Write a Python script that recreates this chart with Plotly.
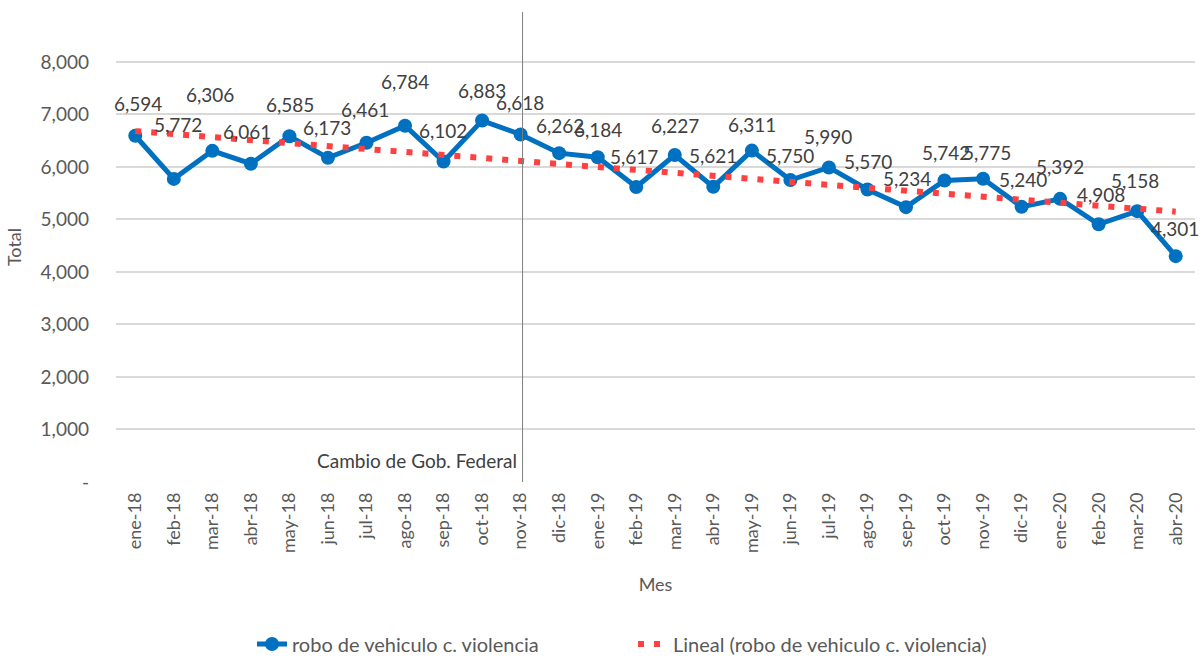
import numpy as np
import plotly.graph_objects as go

# Monthly counts: robo de vehiculo con violencia
meses = ["ene-18", "feb-18", "mar-18", "abr-18", "may-18", "jun-18", "jul-18",
         "ago-18", "sep-18", "oct-18", "nov-18", "dic-18", "ene-19", "feb-19",
         "mar-19", "abr-19", "may-19", "jun-19", "jul-19", "ago-19", "sep-19",
         "oct-19", "nov-19", "dic-19", "ene-20", "feb-20", "mar-20", "abr-20"]
robos = [6594, 5772, 6306, 6061, 6585, 6173, 6461, 6784, 6102, 6883, 6618,
         6262, 6184, 5617, 6227, 5621, 6311, 5750, 5990, 5570, 5234, 5742,
         5775, 5240, 5392, 4908, 5158, 4301]
y_ticks = [0, 1000, 2000, 3000, 4000, 5000, 6000, 7000, 8000]
y_tick_text = ["-", "1,000", "2,000", "3,000", "4,000", "5,000", "6,000", "7,000", "8,000"]

# label vertical offsets (px) above each point
label_shift = [32, 54, 56, 32, 32, 30, 33, 44, 31, 30, 32, 28, 28, 31, 30, 31,
               26, 25, 31, 28, 29, 28, 26, 27, 32, 30, 31, 28]
label_dx = [3, 4, -2, -4, 1, -1, -1, 0, -1, 0, -1, 1, 0, -2, 0, 0, 0, 0, -1, 1,
            1, 1, 4, 1, 0, 2, -2, -1]

idx = np.arange(len(robos))
slope, intercept = np.polyfit(idx, robos, 1)
tendencia = slope * idx + intercept

FONT = "Lato"
GRAY = "#595959"
DARK = "#404040"
BLUE = "#0070C0"
RED = "#FF4040"

fig = go.Figure()
fig.add_trace(go.Scatter(
    x=idx, y=robos, mode="lines+markers", name="robo de vehiculo c. violencia",
    line=dict(color=BLUE, width=5), marker=dict(color=BLUE, size=14),
    legend="legend",
))
fig.add_trace(go.Scatter(
    x=idx, y=tendencia, mode="lines", name="Lineal (robo de vehiculo c. violencia)",
    line=dict(color=RED, width=6, dash="6px,10px"),
    legend="legend2",
))

for i, v in enumerate(robos):
    fig.add_annotation(x=i, y=v, text=f"{v:,}", showarrow=False,
                       yshift=label_shift[i], xshift=label_dx[i],
                       font=dict(family=FONT, size=19, color=DARK))

fig.add_shape(type="line", xref="x", yref="paper", x0=10.05, x1=10.05, y0=0, y1=1,
              line=dict(color="#7f7f7f", width=1))
fig.add_annotation(x=10, y=400, text="Cambio de Gob. Federal", showarrow=False,
                   xanchor="right", xshift=-2,
                   font=dict(family=FONT, size=19, color=DARK))

legend_style = dict(orientation="h", xanchor="left", xref="container",
                    y=14 / 658, yanchor="middle", yref="container",
                    font=dict(family=FONT, size=20, color=GRAY), tracegroupgap=0)

fig.update_layout(
    width=1201, height=658,
    margin=dict(l=116, r=6, t=12, b=176, autoexpand=False),
    plot_bgcolor="white", paper_bgcolor="white",
    font=dict(family=FONT, size=19, color=GRAY),
    showlegend=True,
    legend=dict(x=252 / 1201, **legend_style),
    legend2=dict(x=633 / 1201, **legend_style),
)
fig.update_xaxes(
    range=[-0.5, len(robos) - 0.5], tickmode="array", tickvals=idx, ticktext=meses,
    tickangle=-90, showgrid=False, zeroline=False, showline=False, automargin=False,
    ticks="", ticklabelstandoff=6, tickfont=dict(family=FONT, size=18, color=GRAY),
    title=dict(text="Mes", font=dict(family=FONT, size=18, color=GRAY), standoff=26),
)
fig.update_yaxes(
    range=[0, 8950], tickmode="array", tickvals=y_ticks, ticktext=y_tick_text,
    showgrid=True, gridcolor="#d9d9d9", gridwidth=1.5, zeroline=False,
    showline=False, ticks="", ticklen=0, automargin=False, ticklabelstandoff=26,
    tickfont=dict(family=FONT, size=19, color=GRAY),
    title=dict(text="Total", font=dict(family=FONT, size=18, color=GRAY), standoff=14),
)

fig.write_html("out.html")
